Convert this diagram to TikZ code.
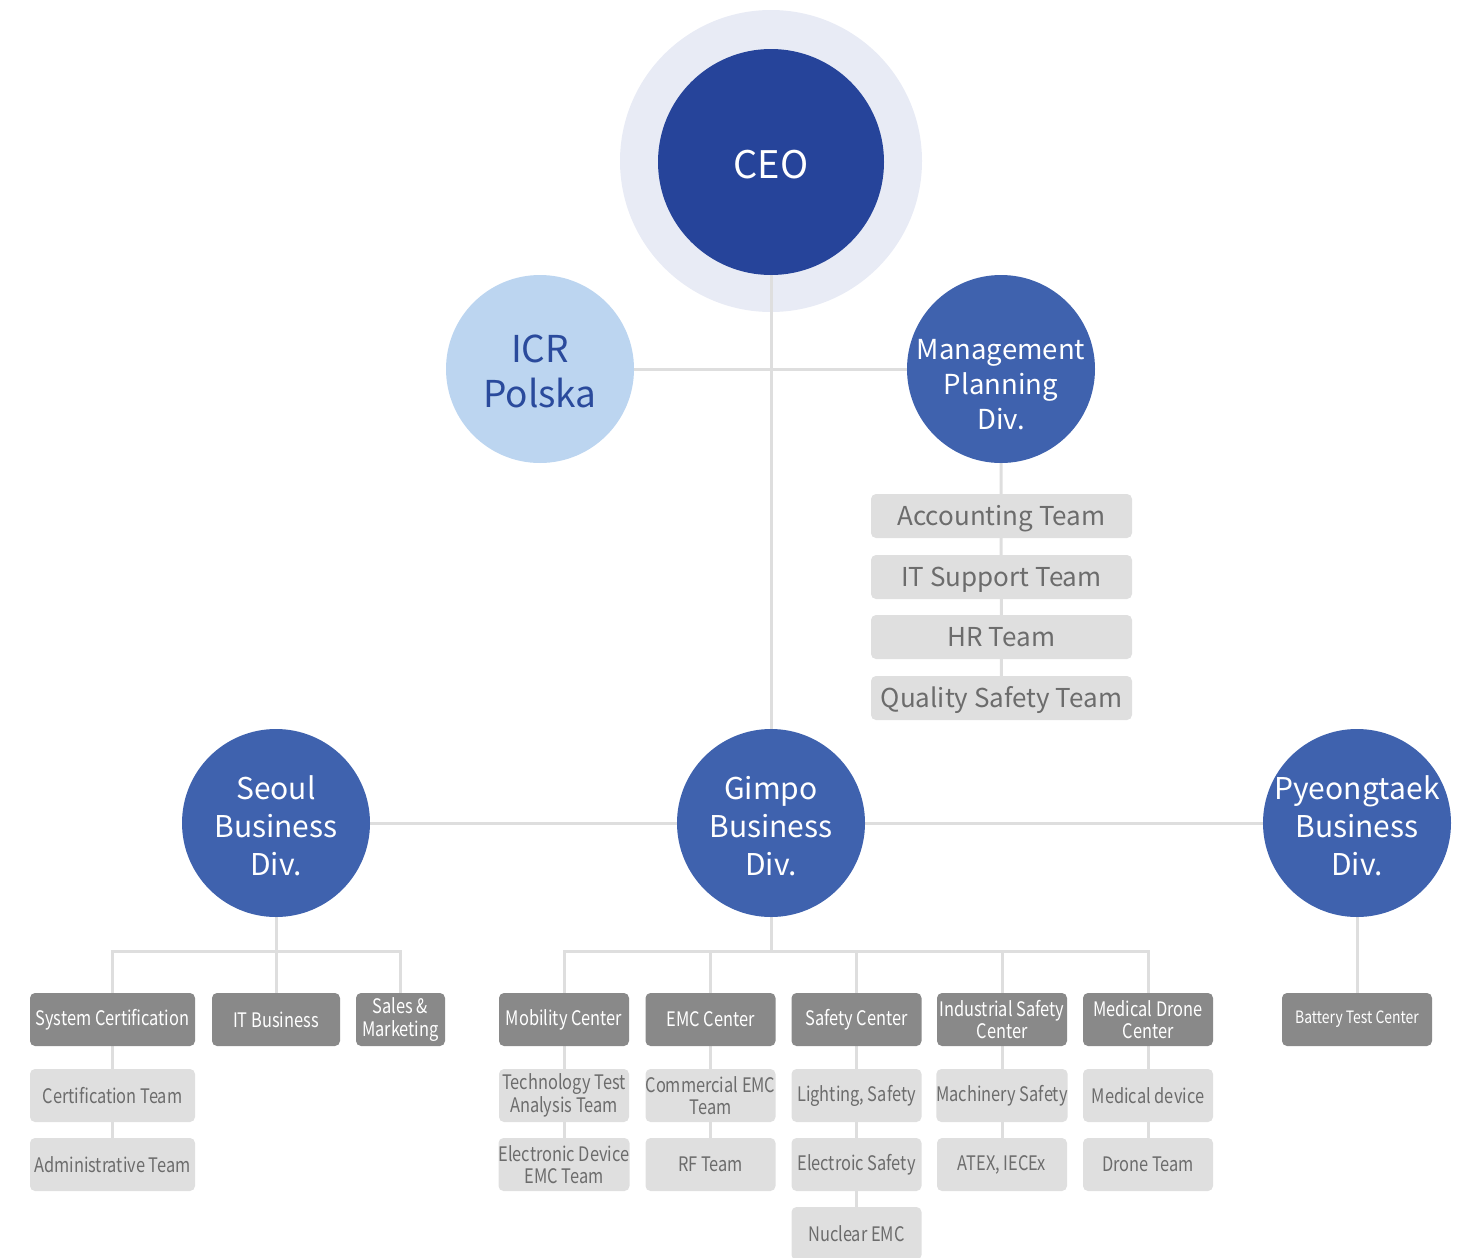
\documentclass[tikz,border=0pt]{standalone}
\usepackage{fontspec}
\setmainfont{Noto Sans CJK KR}
\newfontfamily\cond[FakeStretch=0.82]{Noto Sans CJK KR}
\pgfdeclarelayer{back}
\pgfdeclarelayer{bg}
\pgfsetlayers{back,bg,main}
\definecolor{ceoblue}{HTML}{26449A}
\definecolor{halo}{HTML}{E8EBF5}
\definecolor{divblue}{HTML}{3F62AE}
\definecolor{icrfill}{HTML}{BCD5F0}
\definecolor{icrtext}{HTML}{2A4A9C}
\definecolor{darkbox}{HTML}{898989}
\definecolor{lightbox}{HTML}{DFDFDF}
\definecolor{lighttext}{HTML}{6C6C6C}
\definecolor{linegray}{HTML}{DEDEDE}
\begin{document}
\begin{tikzpicture}[x=1pt,y=-1pt,
  circ/.style={circle,inner sep=0pt,minimum size=188pt,fill=divblue},
  ctext/.style={align=center,text=white,inner sep=0pt,font=\fontsize{30}{38}\selectfont},
  dark/.style={rounded corners=5pt,fill=darkbox,text=white,inner sep=0pt,minimum height=53pt,align=center,font=\cond\fontsize{20}{22.5}\selectfont},
  light/.style={dark,fill=lightbox,text=lighttext},
  team/.style={rounded corners=5pt,fill=lightbox,text=lighttext,minimum width=261pt,minimum height=44pt,inner sep=0pt,text height=21pt,text depth=3pt,font=\fontsize{26}{30}\selectfont},
  conn/.style={draw=linegray,line width=3pt}]
\useasboundingbox (0,0) rectangle (1465,1258);

% top
\begin{pgfonlayer}{back}
\node[circle,fill=halo,inner sep=0pt,minimum size=302pt] (halo) at (771,161) {};
\end{pgfonlayer}
\node[circle,fill=ceoblue,inner sep=0pt,minimum size=226pt,
  label={[text=white,font=\fontsize{38}{44}\selectfont,yshift=-3pt]center:CEO}] (ceo) at (771,162) {};
\node[circ,fill=icrfill,
  label={[ctext,text=icrtext,font=\fontsize{37}{45}\selectfont,yshift=-2pt]center:ICR\\Polska}] (icr) at (540,369) {};
\node[circ,
  label={[ctext,font=\fontsize{27.5}{35}\selectfont,yshift=-16pt]center:Management\\Planning\\Div.}] (mgmt) at (1001,369) {};

\node[team] (acc) at (1001.5,516) {Accounting Team};
\node[team] (its) at (1001.5,577) {IT Support Team};
\node[team] (hr) at (1001.5,637) {HR Team};
\node[team] (qual) at (1001.5,698) {Quality Safety Team};

\node[circ,label={[ctext,yshift=-3pt]center:Seoul\\Business\\Div.}] (seoul) at (276,823) {};
\node[circ,label={[ctext,yshift=-3pt]center:Gimpo\\Business\\Div.}] (gimpo) at (771,823) {};
\node[circ,label={[ctext,yshift=-3pt]center:Pyeongtaek\\Business\\Div.}] (pyeong) at (1357,823) {};

% Seoul
\node[dark,minimum width=165pt] (syscert) at (112.5,1019.5) {System Certification};
\node[dark,minimum width=128pt] (itbiz) at (276,1019.5) {IT Business};
\node[dark,minimum width=89pt] (sales) at (400.5,1019.5) {Sales \&\\Marketing};
\node[light,minimum width=165pt] (certteam) at (112.5,1095.5) {Certification Team};
\node[light,minimum width=165pt] (admin) at (112.5,1164.5) {Administrative Team};

% Gimpo
\node[dark,minimum width=130pt] (mob) at (564,1019.5) {Mobility Center};
\node[dark,minimum width=130pt] (emc) at (710.5,1019.5) {EMC Center};
\node[dark,minimum width=130pt] (saf) at (856.5,1019.5) {Safety Center};
\node[dark,minimum width=130pt] (ind) at (1002,1019.5) {Industrial Safety\\Center};
\node[dark,minimum width=130pt] (med) at (1148,1019.5) {Medical Drone\\Center};

\node[light,minimum width=130pt] (tech) at (564,1095.5) {Technology Test\\Analysis Team};
\node[light,minimum width=130pt] (com) at (710.5,1095.5) {Commercial EMC\\Team};
\node[light,minimum width=130pt] (light) at (856.5,1095.5) {Lighting, Safety};
\node[light,minimum width=130pt] (mach) at (1002,1095.5) {Machinery Safety};
\node[light,minimum width=130pt] (meddev) at (1148,1095.5) {Medical device};

\node[light,minimum width=130pt] (eld) at (564,1164.5) {Electronic Device\\EMC Team};
\node[light,minimum width=130pt] (rf) at (710.5,1164.5) {RF Team};
\node[light,minimum width=130pt] (els) at (856.5,1164.5) {Electroic Safety};
\node[light,minimum width=130pt] (atex) at (1002,1164.5) {ATEX, IECEx};
\node[light,minimum width=130pt] (drone) at (1148,1164.5) {Drone Team};

\node[light,minimum width=130pt] (nuc) at (856.5,1233.5) {Nuclear EMC};

% Pyeongtaek
\node[dark,minimum width=150pt,font=\cond\fontsize{17}{20}\selectfont] (bat) at (1357,1019.5) {Battery Test Center};

\coordinate (bus) at (0,951);

\begin{pgfonlayer}{bg}
\draw[conn] (ceo.south) -- (gimpo.north);
\draw[conn] (icr.east) -- (mgmt.west);
\draw[conn] (mgmt.south) -- (qual.center);
\draw[conn] (seoul.east) -- (pyeong.west);
% Seoul branch
\draw[conn] (seoul.south) -- (itbiz.north);
\draw[conn] (syscert.north) -- (syscert.north |- bus) -- (sales.north |- bus) -- (sales.north);
\draw[conn] (syscert.center) -- (admin.center);
% Gimpo branch
\draw[conn] (gimpo.south) -- (gimpo.south |- bus);
\draw[conn] (mob.north) -- (mob.north |- bus) -- (med.north |- bus) -- (med.north);
\draw[conn] (emc.north) -- (emc.north |- bus);
\draw[conn] (saf.north) -- (saf.north |- bus);
\draw[conn] (ind.north) -- (ind.north |- bus);
\draw[conn] (mob.center) -- (eld.center);
\draw[conn] (emc.center) -- (rf.center);
\draw[conn] (saf.center) -- (nuc.center);
\draw[conn] (ind.center) -- (atex.center);
\draw[conn] (med.center) -- (drone.center);
% Pyeongtaek branch
\draw[conn] (pyeong.south) -- (bat.north);
\end{pgfonlayer}
\end{tikzpicture}
\end{document}
